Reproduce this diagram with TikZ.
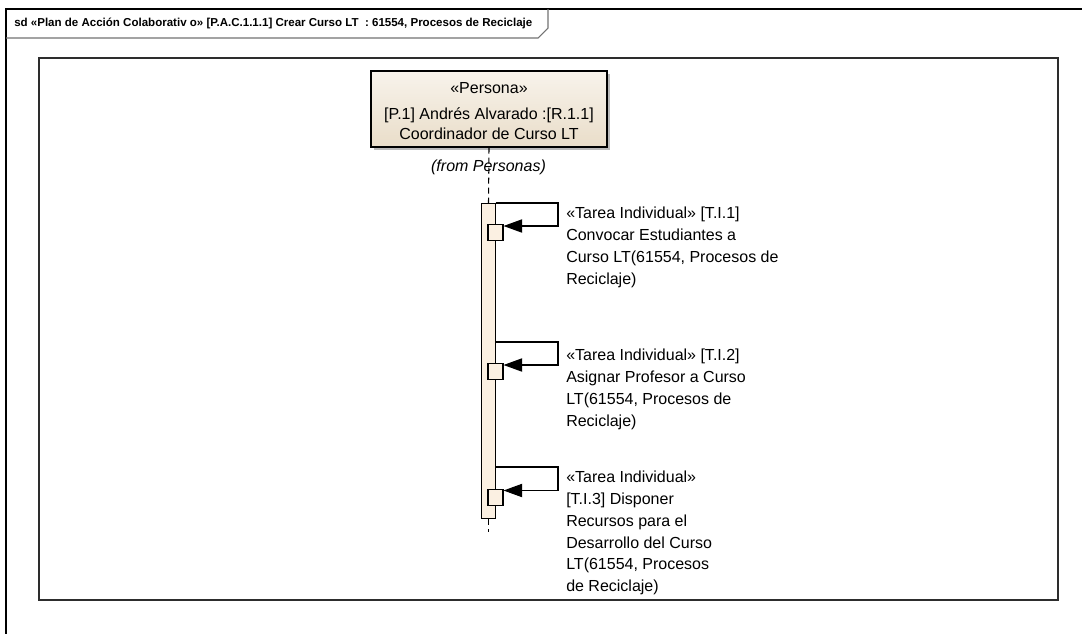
\documentclass[tikz,border=0pt]{standalone}
\usepackage{fontspec}
\setmainfont{Liberation Sans}
\usetikzlibrary{arrows.meta,shadows}

\definecolor{beigeTop}{RGB}{248,243,235}
\definecolor{beigeBot}{RGB}{233,221,201}
\definecolor{actfill}{RGB}{251,240,226}
\definecolor{framec}{RGB}{45,45,45}

\begin{document}
\begin{tikzpicture}[x=0.75pt,y=-0.75pt,
  outerframe/.style={draw=black,line width=0.8pt},
  framebox/.style={draw=framec,line width=1.1pt},
  lifeline/.style={draw=black,line width=0.8pt,dash pattern=on 4.5pt off 3pt},
  actbar/.style={draw=black,line width=0.8pt,fill=actfill,inner sep=0pt,minimum width=10pt},
  execbox/.style={draw=black,line width=0.8pt,fill=actfill,inner sep=0pt,minimum width=11.25pt,minimum height=12pt},
  selfmsg/.style={draw=black,line width=0.8pt,-{Triangle[length=14pt,width=10pt]}},
  msgtext/.style={anchor=north west,inner sep=0pt,align=left,font=\fontsize{12}{16.3}\selectfont},
  persona/.style={draw=black,line width=0.8pt,top color=beigeTop,bottom color=beigeBot,
     minimum width=177pt,minimum height=57pt,inner sep=0pt,
     drop shadow={shadow xshift=2.2pt,shadow yshift=-2.2pt,fill=black!45,opacity=0.6}},
]
\useasboundingbox (0,0) rectangle (1082,633);
\fill[white] (0,0) rectangle (1082,633);
% outer frame (runs off the page to the right and bottom)
\begin{scope}
\clip (0,0) rectangle (1082,633);
\draw[outerframe] (6,700) -- (6,9) -- (1100,9);
\end{scope}
% title tab
\node[anchor=west,inner sep=0pt,font=\bfseries\fontsize{8.65}{10}\selectfont] (title) at (14,23.5)
  {sd «Plan de Acción Colaborativ o» [P.A.C.1.1.1] Crear Curso LT\ \ : 61554, Procesos de Reciclaje};
\draw[black!55,line width=0.8pt] (6,38) -- (538,38) -- (548,28) -- (548,9);
% inner frame
\draw[framebox] (39,58) rectangle (1058,600);

% lifeline head
\node[persona] (persona) at (489,109) {};
\node[anchor=base,inner sep=0pt,font=\fontsize{12}{15}\selectfont] (stereo) at (489,93.5) {«Persona»};
\node[anchor=north,inner sep=0pt,align=center,font=\fontsize{12}{15}\selectfont] (pname) at (489,107)
  {[P.1] Andrés Alvarado :[R.1.1]\\Coordinador de Curso LT};
\node[inner sep=0pt,font=\itshape\fontsize{12}{15}\selectfont] (from) at (488.5,167) {(from Personas)};

% activation bar
\node[actbar,anchor=north,minimum height=236.25pt] (bar) at (488.5,203) {};
\coordinate (llend) at (488.5,532);
\draw[lifeline] (persona.south) -- (bar.north);
\draw[lifeline] (bar.south) -- (llend);

% execution boxes
\node[execbox,anchor=north] (e1) at (495.5,224) {};
\node[execbox,anchor=north] (e2) at (495.5,363) {};
\node[execbox,anchor=north] (e3) at (495.5,489) {};

% self messages
\coordinate (m1a) at (558,203);
\coordinate (m1b) at (558,226);
\draw[selfmsg] (bar.east |- m1a) -- (m1a) -- (m1b) -- (e1.east |- m1b);
\coordinate (m2a) at (558,342);
\coordinate (m2b) at (558,365);
\draw[selfmsg] (bar.east |- m2a) -- (m2a) -- (m2b) -- (e2.east |- m2b);
\coordinate (m3a) at (558,467);
\coordinate (m3b) at (558,490.5);
\draw[selfmsg] (bar.east |- m3a) -- (m3a) -- (m3b) -- (e3.east |- m3b);

% message labels
\node[msgtext] (t1) at (566,207)
  {«Tarea Individual» [T.I.1]\\Convocar Estudiantes a\\Curso LT(61554, Procesos de\\Reciclaje)};
\node[msgtext] (t2) at (566,349)
  {«Tarea Individual» [T.I.2]\\Asignar Profesor a Curso\\LT(61554, Procesos de\\Reciclaje)};
\node[msgtext] (t3) at (566,471)
  {«Tarea Individual»\\{[T.I.3]} Disponer\\Recursos para el\\Desarrollo del Curso\\LT(61554, Procesos\\de Reciclaje)};
\end{tikzpicture}
\end{document}
